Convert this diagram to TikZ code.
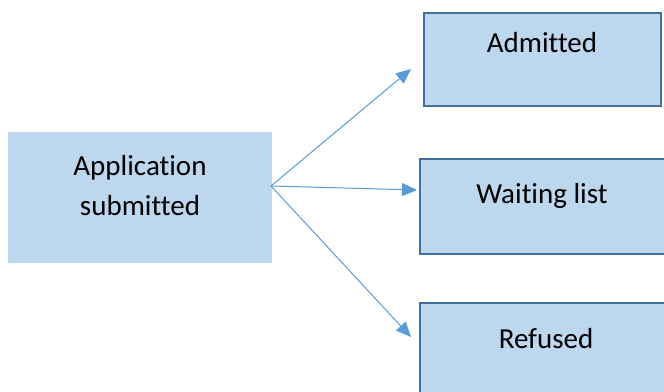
\documentclass[tikz,border=0pt]{standalone}
\usepackage{fontspec}
\setmainfont[Ligatures={NoCommon}]{Carlito}
\usetikzlibrary{arrows.meta}
\definecolor{boxfill}{HTML}{BDD7EE}
\definecolor{boxedge}{HTML}{41719C}
\definecolor{arrowcol}{HTML}{5B9BD5}
\begin{document}
\begin{tikzpicture}[x=1pt,y=-1pt,
  outbox/.style={draw=boxedge, line width=2pt, fill=boxfill, rectangle, inner sep=0pt, outer sep=0pt},
  inbox/.style={fill=boxfill, rectangle, inner sep=0pt, outer sep=0pt},
  lbl/.style={font=\fontsize{29}{40}\selectfont, text=black, anchor=base, inner sep=0pt, align=center},
  conn/.style={draw=arrowcol, line width=1pt, -{Triangle[length=15pt,width=13pt]}}]
\useasboundingbox (0,0) rectangle (664,391);
\clip (0,0) rectangle (664,391);
\fill[white] (0,0) rectangle (664,391);
% boxes
\node[inbox, minimum width=264pt, minimum height=131pt] (app) at (140,197.5) {};
\node[outbox, minimum width=237pt, minimum height=93pt] (adm) at (542.5,59.5) {};
\node[outbox, minimum width=250pt, minimum height=95pt] (wait) at (545,206.5) {};
\node[outbox, minimum width=250pt, minimum height=97pt] (ref) at (545,351.5) {};
% texts
\node[lbl] (tapp1) at (140,175) {Application};
\node[lbl] (tapp2) at (140,215) {submitted};
\node[lbl] (tadm) at (542,52) {Admitted};
\node[lbl] (twait) at (542,203) {Waiting list};
\node[lbl] (tref) at (546,348) {Refused};
% connectors
\coordinate (src) at (271,186);
\coordinate (eadm) at (411,69);
\coordinate (ewait) at (417,190);
\coordinate (eref) at (411,337);
\draw[conn] (src) -- (eadm);
\draw[conn] (src) -- (ewait);
\draw[conn] (src) -- (eref);
\end{tikzpicture}
\end{document}
